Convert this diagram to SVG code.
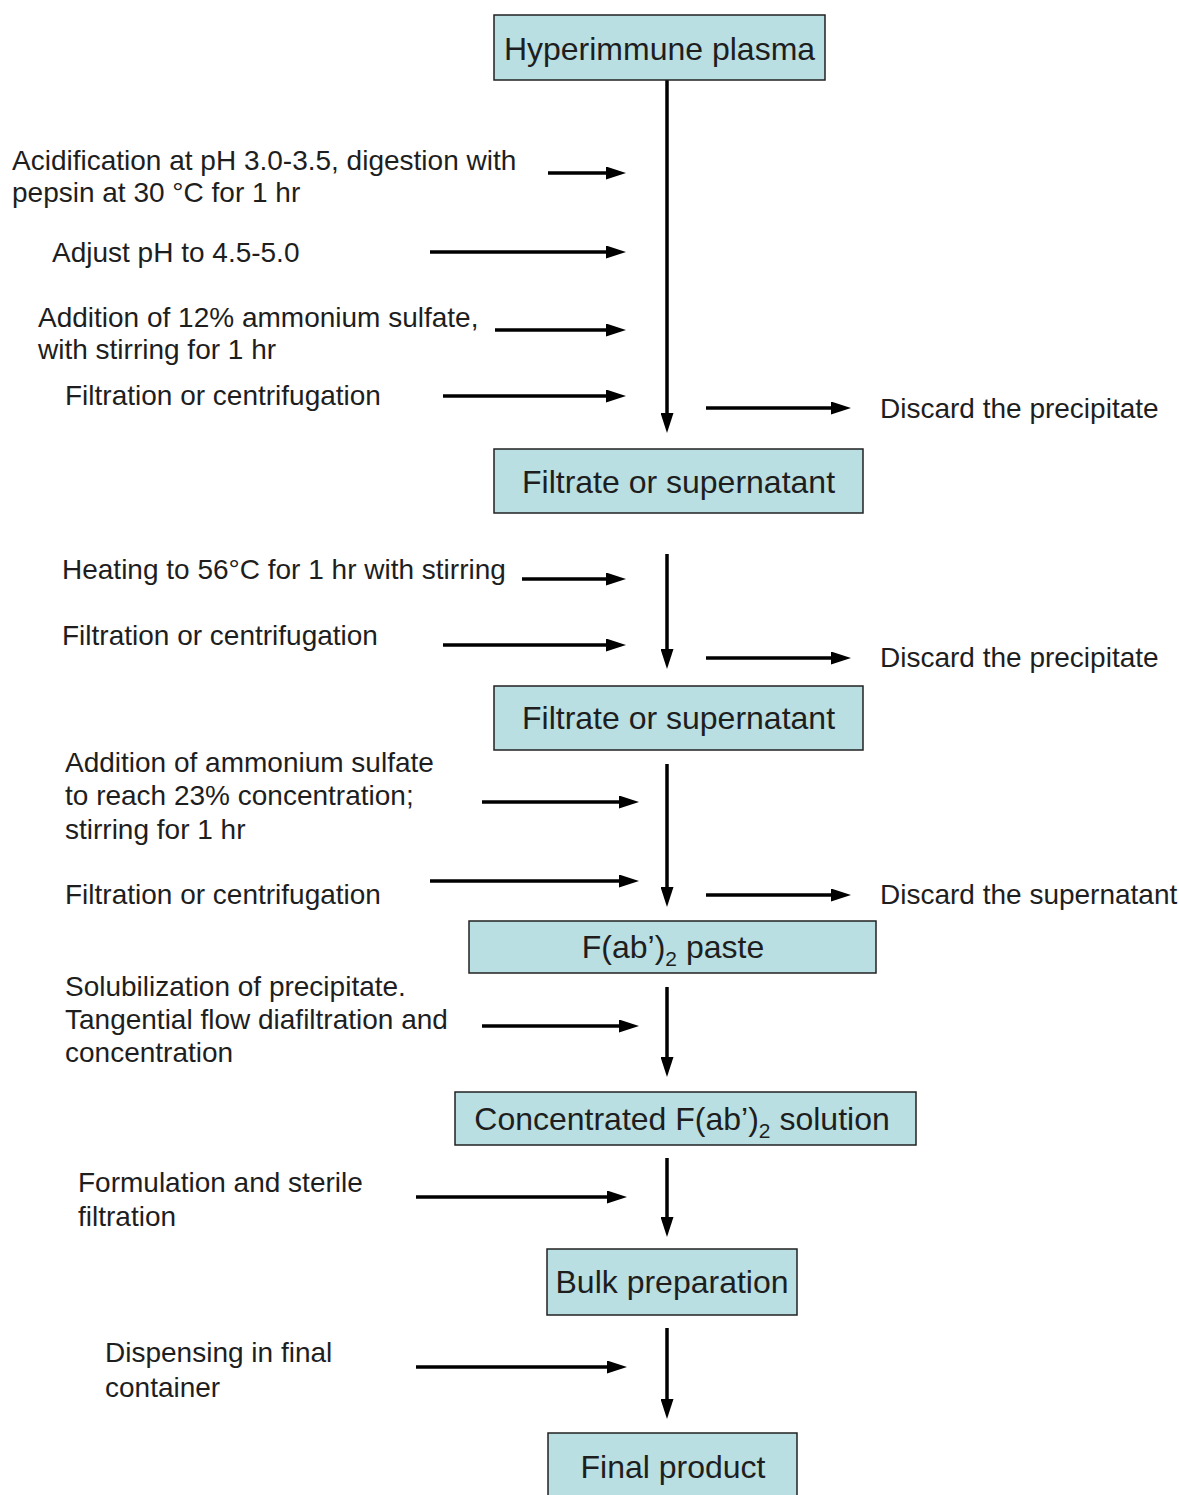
<svg xmlns="http://www.w3.org/2000/svg" width="1179" height="1495" viewBox="0 0 1179 1495">
<style>
.box{fill:#b9dfe2;stroke:#222;stroke-width:1.5}
.bt{font-family:"Liberation Sans",Arial,sans-serif;font-size:32px;fill:#1e1e1e;text-anchor:middle}
.lb{font-family:"Liberation Sans",Arial,sans-serif;font-size:28px;fill:#1e1e1e}
.sub{font-size:21px}
.c{stroke:#000;stroke-width:3.5;fill:none;marker-end:url(#ah)}
</style>
<defs>
<marker id="ah" markerWidth="20" markerHeight="13" refX="1" refY="6.5" orient="auto" markerUnits="userSpaceOnUse"><path d="M0,0 L20,6.5 L0,13 Z" fill="#000"/></marker>
</defs>
<rect width="1179" height="1495" fill="#fff"/>
<g id="connectors">
<path class="c" d="M667,80 V414"/>
<path class="c" d="M667,554 V650"/>
<path class="c" d="M667,764 V888"/>
<path class="c" d="M667,987 V1058"/>
<path class="c" d="M667,1158 V1218"/>
<path class="c" d="M667,1328 V1400"/>
<path class="c" d="M548,173 H607"/>
<path class="c" d="M430,252 H607"/>
<path class="c" d="M495,330 H607"/>
<path class="c" d="M443,396 H607"/>
<path class="c" d="M706,408 H832"/>
<path class="c" d="M522,579 H607"/>
<path class="c" d="M443,645 H607"/>
<path class="c" d="M706,658 H832"/>
<path class="c" d="M482,802 H620"/>
<path class="c" d="M430,881 H620"/>
<path class="c" d="M706,895 H832"/>
<path class="c" d="M482,1026 H620"/>
<path class="c" d="M416,1197 H608"/>
<path class="c" d="M416,1367 H608"/>
</g>
<g id="n1"><rect class="box" x="494" y="15" width="331" height="65"/><text class="bt" x="659.5" y="60">Hyperimmune plasma</text></g>
<g id="n2"><rect class="box" x="494" y="449" width="369" height="64"/><text class="bt" x="678.5" y="493">Filtrate or supernatant</text></g>
<g id="n3"><rect class="box" x="494" y="686" width="369" height="64"/><text class="bt" x="678.5" y="729">Filtrate or supernatant</text></g>
<g id="n4"><rect class="box" x="469" y="921" width="407" height="52"/><text class="bt" x="673" y="958">F(ab’)<tspan class="sub" dy="8">2</tspan><tspan dy="-8"> paste</tspan></text></g>
<g id="n5"><rect class="box" x="455" y="1092" width="461" height="53"/><text class="bt" x="682" y="1130">Concentrated F(ab’)<tspan class="sub" dy="8">2</tspan><tspan dy="-8"> solution</tspan></text></g>
<g id="n6"><rect class="box" x="547" y="1249" width="250" height="66"/><text class="bt" x="672" y="1293">Bulk preparation</text></g>
<g id="n7"><rect class="box" x="548" y="1433" width="249" height="70"/><text class="bt" x="673" y="1478">Final product</text></g>
<g id="labels">
<text class="lb" x="12" y="170">Acidification at pH 3.0-3.5, digestion with</text>
<text class="lb" x="12" y="202">pepsin at 30 °C for 1 hr</text>
<text class="lb" x="52" y="262">Adjust pH to 4.5-5.0</text>
<text class="lb" x="38" y="327">Addition of 12% ammonium sulfate,</text>
<text class="lb" x="38" y="359">with stirring for 1 hr</text>
<text class="lb" x="65" y="405">Filtration or centrifugation</text>
<text class="lb" x="880" y="418">Discard the precipitate</text>
<text class="lb" x="62" y="579">Heating to 56°C for 1 hr with stirring</text>
<text class="lb" x="62" y="645">Filtration or centrifugation</text>
<text class="lb" x="880" y="667">Discard the precipitate</text>
<text class="lb" x="65" y="772">Addition of ammonium sulfate</text>
<text class="lb" x="65" y="805">to reach 23% concentration;</text>
<text class="lb" x="65" y="839">stirring for 1 hr</text>
<text class="lb" x="65" y="904">Filtration or centrifugation</text>
<text class="lb" x="880" y="904">Discard the supernatant</text>
<text class="lb" x="65" y="996">Solubilization of precipitate.</text>
<text class="lb" x="65" y="1029">Tangential flow diafiltration and</text>
<text class="lb" x="65" y="1062">concentration</text>
<text class="lb" x="78" y="1192">Formulation and sterile</text>
<text class="lb" x="78" y="1226">filtration</text>
<text class="lb" x="105" y="1362">Dispensing in final</text>
<text class="lb" x="105" y="1397">container</text>
</g>
</svg>
